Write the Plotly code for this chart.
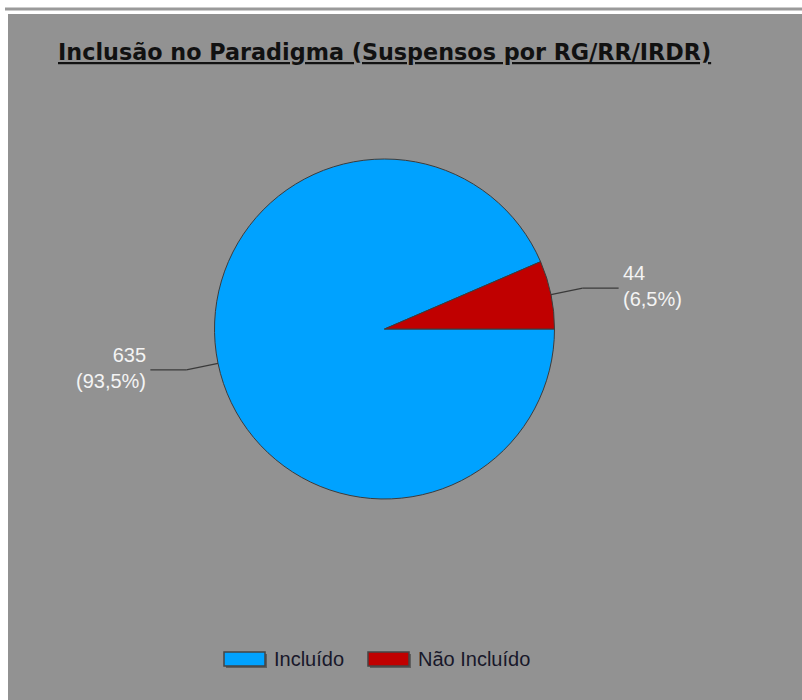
import math
import plotly.graph_objects as go

# ---- data ----
labels = ["Incluído", "Não Incluído"]
values = [635, 44]
colors = ["#00A2FF", "#C00000"]
title_text = "Inclusão no Paradigma (Suspensos por RG/RR/IRDR)"

# ---- layout constants (pixels) ----
W, H = 802, 700
CX, CY, R = 384.5, 329.0, 170.0
legend_swatch_x = [224, 368]
legend_y = 659
PANEL = "#929292"


def px(x):
    return x / W


def py(y):
    return 1 - y / H


fig = go.Figure(
    go.Pie(
        labels=labels,
        values=values,
        sort=False,
        direction="clockwise",
        rotation=90,
        marker=dict(colors=colors, line=dict(color="#3C3C3C", width=1)),
        textinfo="none",
        hoverinfo="label+value+percent",
        showlegend=False,
        domain=dict(x=[px(CX - R), px(CX + R)], y=[py(CY + R), py(CY - R)]),
    )
)

shapes = [
    # top separator line
    dict(type="rect", xref="paper", yref="paper", x0=px(5), x1=px(W), y0=py(10.5), y1=py(7.5),
         fillcolor="#9A9A9A", line=dict(width=0), layer="below"),
    # grey panel
    dict(type="rect", xref="paper", yref="paper", x0=px(8), x1=px(W), y0=py(H), y1=py(14),
         fillcolor=PANEL, line=dict(width=0), layer="below"),
]
annotations = [
    dict(text="<b><u>" + title_text + "</u></b>", xref="paper", yref="paper",
         x=px(56), y=py(52.5), xanchor="left", yanchor="middle", showarrow=False,
         font=dict(family="DejaVu Sans", size=22.3, color="#111111")),
]

# outside labels with leader lines, positioned from the slice angles
total = sum(values)
cum = 0
for lab, v in zip(labels, values):
    mid = -(cum + v / 2) / total * 2 * math.pi
    cum += v
    c, s = math.cos(mid), math.sin(mid)
    ex, ey = CX + R * c, CY - R * s
    kx, ky = CX + 1.19 * R * c, CY - 1.19 * R * s
    side = 1 if c >= 0 else -1
    hx = kx + side * 36
    for (x0, y0, x1, y1) in [(ex, ey, kx, ky), (kx, ky, hx, ky)]:
        shapes.append(dict(type="line", xref="paper", yref="paper",
                           x0=px(x0), y0=py(y0), x1=px(x1), y1=py(y1),
                           line=dict(color="#3A3A3A", width=1.2)))
    pct = f"{100 * v / total:.1f}".replace(".", ",")
    annotations.append(dict(
        text=f"{v}<br>({pct}%)", xref="paper", yref="paper",
        x=px(hx + side * 2), y=py(ky), xanchor="left" if side > 0 else "right",
        yanchor="middle", align="left" if side > 0 else "right",
        yshift=2, showarrow=False,
        font=dict(family="Liberation Sans, Arial", size=20, color="#F4F4F4")))

# legend
for lab, col, sx in zip(labels, colors, legend_swatch_x):
    shapes.append(dict(type="rect", xref="paper", yref="paper",
                       x0=px(sx + 2), x1=px(sx + 43), y0=py(legend_y + 9), y1=py(legend_y - 5),
                       fillcolor="#5E5E5E", line=dict(width=0)))
    shapes.append(dict(type="rect", xref="paper", yref="paper",
                       x0=px(sx), x1=px(sx + 41), y0=py(legend_y + 7), y1=py(legend_y - 7),
                       fillcolor=col, line=dict(color="#444444", width=1.5)))
    annotations.append(dict(text=lab, xref="paper", yref="paper",
                            x=px(sx + 48), y=py(legend_y), xanchor="left", yanchor="middle",
                            showarrow=False,
                            font=dict(family="Liberation Sans, Arial", size=20, color="#18182A")))

fig.update_layout(
    width=W, height=H,
    margin=dict(l=0, r=0, t=0, b=0),
    paper_bgcolor="white",
    plot_bgcolor="white",
    shapes=shapes,
    annotations=annotations,
    showlegend=False,
)

fig.write_html("out.html")
